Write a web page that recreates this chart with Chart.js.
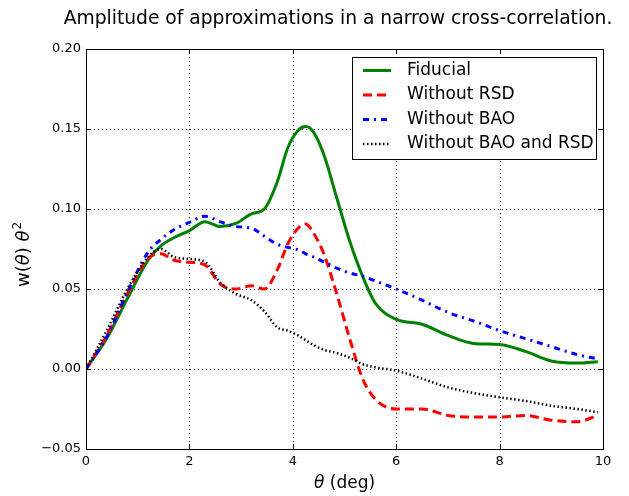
<!DOCTYPE html>
<html><head><meta charset="utf-8">
<script src="https://cdn.jsdelivr.net/npm/chart.js@4"></script>
<style>html,body{margin:0;padding:0;background:#fff}#wrap{width:629px;height:496px}</style>
</head><body><div id="wrap"><canvas id="c" width="629" height="496"></canvas></div>
<script>
const theta = [0,0.4,0.8,1.2,1.45,1.7,2.0,2.3,2.6,2.9,3.2,3.45,3.7,3.9,4.1,4.25,4.4,4.6,4.85,5.1,5.35,5.6,6.0,6.5,7.0,7.5,8.0,8.5,9.0,9.5,9.9];
const fiducial = [0,0.019,0.044,0.068,0.077,0.082,0.0865,0.092,0.089,0.091,0.097,0.100,0.117,0.138,0.149,0.1515,0.148,0.134,0.107,0.080,0.058,0.041,0.031,0.028,0.021,0.016,0.0153,0.011,0.005,0.0037,0.0046];
const withoutRSD = [0,0.021,0.047,0.069,0.072,0.068,0.0667,0.065,0.053,0.050,0.052,0.050,0.062,0.078,0.088,0.0906,0.085,0.072,0.047,0.019,-0.006,-0.019,-0.025,-0.025,-0.029,-0.030,-0.030,-0.029,-0.032,-0.033,-0.029];
const withoutBAO = [0,0.020,0.048,0.073,0.081,0.087,0.0917,0.0955,0.092,0.089,0.088,0.083,0.078,0.076,0.0745,0.072,0.070,0.067,0.063,0.060,0.058,0.055,0.050,0.043,0.0354,0.030,0.024,0.019,0.014,0.009,0.0063];
const withoutBAOandRSD = [0,0.024,0.050,0.070,0.075,0.070,0.0688,0.067,0.054,0.047,0.043,0.036,0.026,0.024,0.021,0.018,0.015,0.012,0.010,0.007,0.003,0.001,-0.001,-0.006,-0.0115,-0.015,-0.0177,-0.020,-0.023,-0.025,-0.027];
const seriesNames = ['Fiducial','Without RSD','Without BAO','Without BAO and RSD'];
const xTicks = [0,2,4,6,8,10];
const yTicks = [-0.05,0.00,0.05,0.10,0.15,0.20];
const titleText = 'Amplitude of approximations in a narrow cross-correlation.';

const FONT = '"DejaVu Sans", sans-serif';
const styles = [
  {color:'#008000', width:3, dash:[]},
  {color:'#ff0000', width:3, dash:[9,5]},
  {color:'#0000ff', width:3, dash:[6,5,2,5]},
  {color:'#000000', width:2.5, dash:[1.5,2.5]}
];
const seriesData = [fiducial, withoutRSD, withoutBAO, withoutBAOandRSD];
const datasets = seriesData.map((arr,i)=>({
  label: seriesNames[i],
  data: theta.map((t,j)=>({x:t,y:arr[j]})),
  borderColor: styles[i].color,
  borderWidth: styles[i].width,
  borderDash: styles[i].dash,
  pointRadius: 0,
  fill: false,
  cubicInterpolationMode: 'monotone',
  order: 4-i
}));

const deco = {
  id:'deco',
  beforeDatasetsDraw(chart){
    const {ctx, chartArea:a, scales:{x,y}} = chart;
    ctx.save();
    ctx.strokeStyle='#000'; ctx.lineWidth=1; ctx.setLineDash([1,3]);
    xTicks.forEach(t=>{ if(t>0&&t<10){const px=Math.round(x.getPixelForValue(t))+0.5; ctx.beginPath(); ctx.moveTo(px,a.top); ctx.lineTo(px,a.bottom); ctx.stroke();}});
    yTicks.forEach(t=>{ if(t>-0.05&&t<0.2){const py=Math.round(y.getPixelForValue(t))+0.5; ctx.beginPath(); ctx.moveTo(a.left,py); ctx.lineTo(a.right,py); ctx.stroke();}});
    ctx.restore();
  },
  afterDatasetsDraw(chart){
    const {ctx, chartArea:a, scales:{x,y}} = chart;
    ctx.save();
    ctx.setLineDash([]);
    ctx.strokeStyle='#000'; ctx.lineWidth=1;
    ctx.strokeRect(Math.round(a.left)+0.5, Math.round(a.top)+0.5, Math.round(a.right-a.left), Math.round(a.bottom-a.top));
    const L=5;
    xTicks.forEach(t=>{const px=Math.round(x.getPixelForValue(t))+0.5; ctx.beginPath(); ctx.moveTo(px,a.bottom); ctx.lineTo(px,a.bottom-L); ctx.moveTo(px,a.top); ctx.lineTo(px,a.top+L); ctx.stroke();});
    yTicks.forEach(t=>{const py=Math.round(y.getPixelForValue(t))+0.5; ctx.beginPath(); ctx.moveTo(a.left,py); ctx.lineTo(a.left+L,py); ctx.moveTo(a.right,py); ctx.lineTo(a.right-L,py); ctx.stroke();});
    ctx.fillStyle='#000'; ctx.font='13px '+FONT;
    ctx.textAlign='center'; ctx.textBaseline='top';
    xTicks.forEach(t=>{ctx.fillText(String(t), x.getPixelForValue(t), a.bottom+6);});
    ctx.textAlign='right'; ctx.textBaseline='middle';
    yTicks.forEach(t=>{ const s=(t<0?'\u2212':'')+Math.abs(t).toFixed(2); ctx.fillText(s, a.left-5, y.getPixelForValue(t));});
    // title
    ctx.font='18.7px '+FONT; ctx.textAlign='center'; ctx.textBaseline='alphabetic';
    ctx.fillText(titleText, 338, 24);
    // x label
    ctx.textAlign='left';
    const cx=(a.left+a.right)/2;
    ctx.font='italic 17px '+FONT; const w1=ctx.measureText('\u03b8').width;
    ctx.font='17px '+FONT; const w2=ctx.measureText(' (deg)').width;
    let sx=cx-(w1+w2)/2;
    ctx.font='italic 17px '+FONT; ctx.fillText('\u03b8', sx, 488);
    ctx.font='17px '+FONT; ctx.fillText(' (deg)', sx+w1, 488);
    // y label
    ctx.save();
    ctx.translate(29, 255); ctx.rotate(-Math.PI/2);
    const parts=[['w(','18px '],['\u03b8','italic 18px '],[') ','18px '],['\u03b8','italic 18px '],['2','12px ']];
    let tw=0; parts.forEach(p=>{ctx.font=p[1]+FONT; tw+=ctx.measureText(p[0]).width;});
    let px=-tw/2;
    parts.forEach((p,i)=>{ctx.font=p[1]+FONT; ctx.fillText(p[0], px+(i===4?1:0), i===4?-8:0); px+=ctx.measureText(p[0]).width;});
    ctx.restore();
    // legend
    const lx=352, ly=57, lw=244, lh=102;
    ctx.fillStyle='#fff'; ctx.fillRect(lx,ly,lw,lh);
    ctx.strokeStyle='#000'; ctx.lineWidth=1; ctx.strokeRect(lx+0.5,ly+0.5,lw,lh);
    ctx.font='17px '+FONT; ctx.textBaseline='middle'; ctx.textAlign='left';
    seriesNames.forEach((n,i)=>{
      const yy=ly+13.5+i*24.5;
      ctx.strokeStyle=styles[i].color; ctx.lineWidth=styles[i].width; ctx.setLineDash(styles[i].dash);
      ctx.beginPath(); ctx.moveTo(363,yy); ctx.lineTo(391,yy); ctx.stroke();
      ctx.setLineDash([]);
      ctx.fillStyle='#000'; ctx.fillText(n, 407, yy);
    });
    ctx.restore();
  }
};

new Chart(document.getElementById('c'), {
  type:'line',
  data:{datasets},
  options:{
    responsive:false, animation:false, devicePixelRatio:1,
    layout:{padding:{left:0,top:49,right:26,bottom:0}},
    plugins:{legend:{display:false}, title:{display:false}, tooltip:{enabled:false}},
    scales:{
      x:{type:'linear', min:0, max:10, grid:{display:false}, border:{display:false}, ticks:{display:false},
         afterFit(s){s.height=47;}},
      y:{type:'linear', min:-0.05, max:0.20, grid:{display:false}, border:{display:false}, ticks:{display:false},
         afterFit(s){s.width=86;}}
    }
  },
  plugins:[deco]
});
</script></body></html>
